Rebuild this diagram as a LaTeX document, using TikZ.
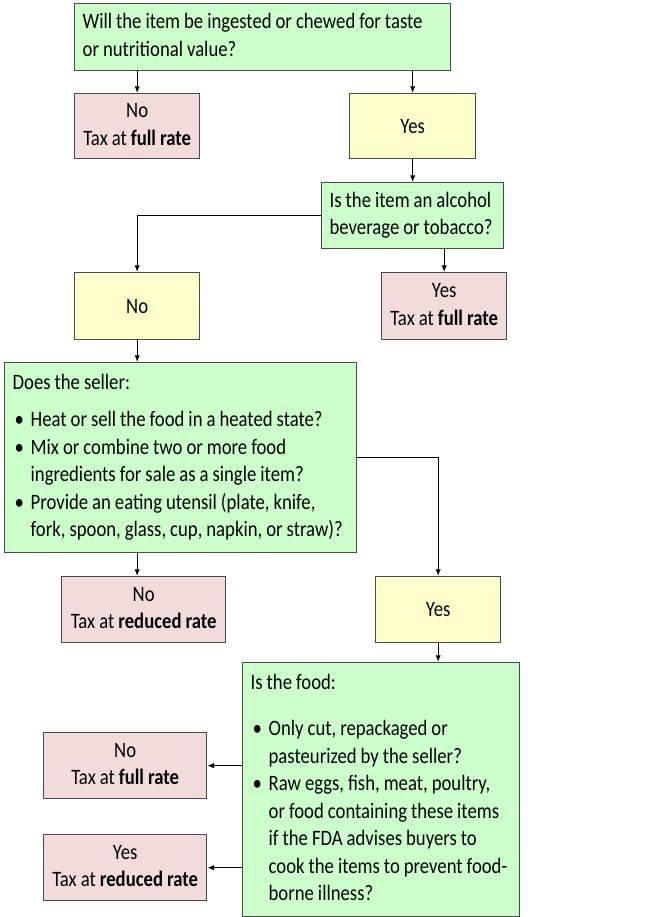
\documentclass[tikz,border=0pt]{standalone}
\usepackage{fontspec}
\setmainfont{Carlito}[FakeStretch=0.85]
\usetikzlibrary{arrows.meta}
\definecolor{qgreen}{HTML}{CCFFCC}
\definecolor{qyellow}{HTML}{FFFFCC}
\definecolor{qpink}{HTML}{F2DCDB}
\definecolor{qborder}{HTML}{4A4A4A}
\newcommand{\bul}{\hspace*{1.5pt}\makebox[12pt][l]{\textbullet}}
\newcommand{\ind}{\hspace*{13.5pt}}
\newcommand{\qfont}{\fontsize{16.5}{20.6}\selectfont}
\newcommand{\ltab}[1]{\setlength{\spaceskip}{3pt}\setlength{\xspaceskip}{3pt}\begin{tabular}{@{}l@{}}#1\end{tabular}}
\newcommand{\ctab}[1]{\setlength{\spaceskip}{3pt}\begin{tabular}{@{}c@{}}#1\end{tabular}}
\begin{document}
\begin{tikzpicture}[x=0.75pt,y=-0.75pt,
  box/.style={draw=qborder,line width=1pt,inner sep=0pt,font=\qfont},
  qbox/.style={box,fill=qgreen,inner xsep=6pt},
  ybox/.style={box,fill=qyellow},
  pbox/.style={box,fill=qpink},
  conn/.style={draw=black,line width=0.8pt,-{Latex[length=5pt,width=4pt]}}]
\useasboundingbox (0,0) rectangle (650,917);
% top question
\node[qbox,minimum width=376*0.75pt,minimum height=67*0.75pt,anchor=north west,text width=270pt] (q1) at (74,3)
  {\ltab{Will the item be ingested or chewed for taste\\or nutritional value?}};
\node[pbox,minimum width=125*0.75pt,minimum height=65*0.75pt,anchor=north west] (n1) at (74,93) {\ctab{No\\Tax at \textbf{full rate}}};
\node[ybox,minimum width=126*0.75pt,minimum height=65*0.75pt,anchor=north west] (y1) at (349,93) {Yes};
\node[qbox,minimum width=182*0.75pt,minimum height=66*0.75pt,anchor=north west,text width=124.5pt] (q2) at (321,182)
  {\ltab{Is the item an alcohol\\beverage or tobacco?}};
\node[ybox,minimum width=125*0.75pt,minimum height=67*0.75pt,anchor=north west] (n2) at (74,272) {No};
\node[pbox,minimum width=125*0.75pt,minimum height=67*0.75pt,anchor=north west] (y2) at (381,272) {\ctab{Yes\\Tax at \textbf{full rate}}};
% seller question
\node[qbox,minimum width=352*0.75pt,minimum height=190*0.75pt,anchor=north west,text width=252pt] (q3) at (4,362)
  {\ltab{Does the seller:\\[7pt]
   \bul Heat or sell the food in a heated state?\\
   \bul Mix or combine two or more food\\
   \ind ingredients for sale as a single item?\\
   \bul Provide an eating utensil (plate, knife,\\
   \ind fork, spoon, glass, cup, napkin, or straw)?}};
\node[pbox,minimum width=164*0.75pt,minimum height=66*0.75pt,anchor=north west] (n3) at (61,576) {\ctab{No\\Tax at \textbf{reduced rate}}};
\node[ybox,minimum width=125*0.75pt,minimum height=66*0.75pt,anchor=north west] (y3) at (375,576) {Yes};
% food question
\node[qbox,minimum width=277*0.75pt,minimum height=254*0.75pt,anchor=north west,text width=195.75pt] (q4) at (242,662)
  {\ltab{Is the food:\\[14pt]
   \bul Only cut, repackaged or\\
   \ind pasteurized by the seller?\\
   \bul Raw eggs, fish, meat, poultry,\\
   \ind or food containing these items\\
   \ind if the FDA advises buyers to\\
   \ind cook the items to prevent food-\\
   \ind borne illness?}};
\node[pbox,minimum width=163*0.75pt,minimum height=66*0.75pt,anchor=north west] (n4) at (43,732) {\ctab{No\\Tax at \textbf{full rate}}};
\node[pbox,minimum width=163*0.75pt,minimum height=66*0.75pt,anchor=north west] (y4) at (43,834) {\ctab{Yes\\Tax at \textbf{reduced rate}}};
% connectors
\draw[conn] (n1.north |- q1.south) -- (n1.north);
\draw[conn] (y1.north |- q1.south) -- (y1.north);
\draw[conn] (y1.south) -- (y1.south |- q2.north);
\draw[conn] (q2.west) -| (n2.north);
\draw[conn] (y2.north |- q2.south) -- (y2.north);
\draw[conn] (n2.south) -- (n2.south |- q3.north);
\draw[conn] (n2.south |- q3.south) -- (n2.south |- n3.north);
\draw[conn] (q3.east) -| (y3.north);
\draw[conn] (y3.south) -- (y3.south |- q4.north);
\draw[conn] (q4.west |- n4.east) -- (n4.east);
\draw[conn] (q4.west |- y4.east) -- (y4.east);
\end{tikzpicture}
\end{document}
